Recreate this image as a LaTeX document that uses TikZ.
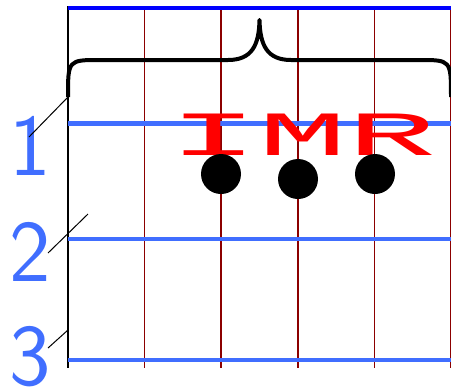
\documentclass[tikz,border=0pt]{standalone}
\usepackage{fontspec}
\newfontfamily\monofnt{Liberation Mono}
\definecolor{lblue}{RGB}{64,110,255}
\definecolor{dred}{RGB}{140,0,0}
\begin{document}
\begin{tikzpicture}[x=1pt,y=-1pt,
  fret/.style={draw=dred,line width=1.6pt},
  strng/.style={draw=lblue,line width=4.5pt},
  lead/.style={draw=black,line width=1pt},
  dot/.style={circle,fill=black,inner sep=0pt,minimum size=40pt},
  num/.style={text=lblue,font=\sffamily\fontsize{88}{88}\selectfont,inner sep=0pt}]
\useasboundingbox (0,0) rectangle (451,389);
% vertical lines
\foreach \i/\x in {1/144.6,2/221.2,3/297.8,4/374.4,5/451}
  \draw[fret] (\x,8) -- (\x,368);
\draw[black,line width=1.6pt] (68,6) -- (68,368);
% top line
\draw[blue,line width=4.5pt] (68,8) -- (451,8);
% strings
\draw[strng] (68,123.5) -- (451,123.5);
\draw[strng] (68,239) -- (451,239);
\draw[strng] (68,360) -- (451,360);
% brace
\coordinate (bl) at (68,97);
\coordinate (br) at (451,97);
\draw[line width=4pt,line join=round] (bl) .. controls (68,60) .. (100,60) -- (228,60)
  .. controls (252,60) and (259,45) .. (259.5,20)
  .. controls (260,45) and (267,60) .. (291,60) -- (419,60)
  .. controls (451,60) .. (br);
% text
\node[text=red,font=\monofnt\fontsize{63}{63}\selectfont,xscale=2.35,anchor=base,inner sep=0pt] (imr) at (303,155) {IMR};
% dots
\node[dot] (d1) at (221,174) {};
\node[dot] (d2) at (298,179) {};
\node[dot] (d3) at (375,174) {};
% labels
\node[num] (n1) at (30,146) {1};
\node[num] (n2) at (30,252) {2};
\node[num] (n3) at (30,357) {3};
\coordinate (c2a) at (48,253);
\coordinate (c2b) at (88,214);
\coordinate (c3a) at (48,348);
\coordinate (c3b) at (68,330);
\coordinate (c1a) at (29,137);
\draw[lead] (c1a) -- (bl);
\draw[lead] (c2a) -- (c2b);
\draw[lead] (c3a) -- (c3b);
\end{tikzpicture}
\end{document}
